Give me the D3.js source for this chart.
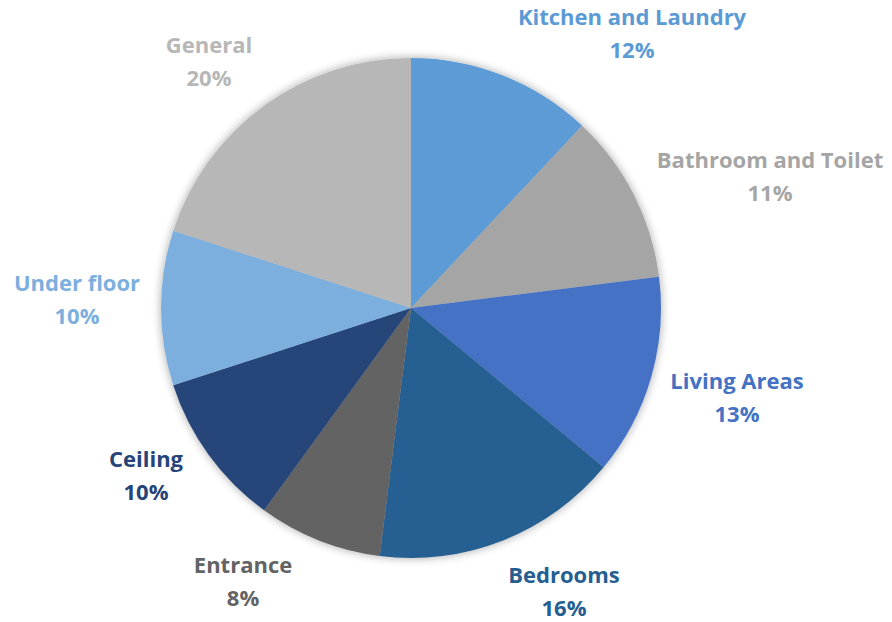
<!DOCTYPE html>
<html>
<head>
<meta charset="utf-8">
<script src="https://cdn.jsdelivr.net/npm/d3@7"></script>
<style>
  html, body { margin: 0; padding: 0; background: #ffffff; }
  svg { display: block; }
  text { font-family: "Open Sans", Lato, sans-serif; font-weight: bold; }
</style>
</head>
<body>
<svg id="chart" width="892" height="622"></svg>
<script>
// Share of items by area of the house
const categories = ["Kitchen and Laundry", "Bathroom and Toilet", "Living Areas", "Bedrooms",
                    "Entrance", "Ceiling", "Under floor", "General"];
const shares = [12, 11, 13, 16, 8, 10, 10, 20];
const colors = ["#5B9BD5", "#A5A5A5", "#4472C4", "#255E91",
                "#636363", "#264478", "#7CAFDD", "#B7B7B7"];

// Label anchors: horizontal centre and first-line baseline of each label
const labelAnchors = [[632, 25], [770, 168], [737, 389], [564, 583],
                      [243, 573], [146, 467], [77, 291], [209, 53]];
const lineGap = 32.5;

const width = 892, height = 622;
const cx = 411, cy = 308, radius = 250;

const svg = d3.select("#chart");

const defs = svg.append("defs");
const shadow = defs.append("filter").attr("id", "pieShadow")
  .attr("x", "-20%").attr("y", "-20%").attr("width", "140%").attr("height", "140%");
shadow.append("feGaussianBlur").attr("in", "SourceAlpha").attr("stdDeviation", 5).attr("result", "blur");
shadow.append("feComponentTransfer").attr("in", "blur").attr("result", "faded")
  .append("feFuncA").attr("type", "linear").attr("slope", 0.35);
const merge = shadow.append("feMerge");
merge.append("feMergeNode").attr("in", "faded");
merge.append("feMergeNode").attr("in", "SourceGraphic");

const data = categories.map((c, i) => ({ name: c, value: shares[i], color: colors[i] }));

const pie = d3.pie().value(d => d.value).sort(null);
const arc = d3.arc().innerRadius(0).outerRadius(radius);

const g = svg.append("g")
  .attr("transform", `translate(${cx},${cy})`)
  .attr("filter", "url(#pieShadow)");

g.selectAll("path")
  .data(pie(data))
  .join("path")
  .attr("d", arc)
  .attr("fill", d => d.data.color);

const fmt = d3.format(".0%");
const labels = svg.append("g").selectAll("text")
  .data(data)
  .join("text")
  .attr("text-anchor", "middle")
  .attr("font-size", 22)
  .attr("fill", d => d.color)
  .attr("transform", (d, i) => `translate(${labelAnchors[i][0]},${labelAnchors[i][1]})`);

labels.append("tspan").attr("x", 0).attr("y", 0).text(d => d.name);
labels.append("tspan").attr("x", 0).attr("y", lineGap).text(d => fmt(d.value / 100));
</script>
</body>
</html>
